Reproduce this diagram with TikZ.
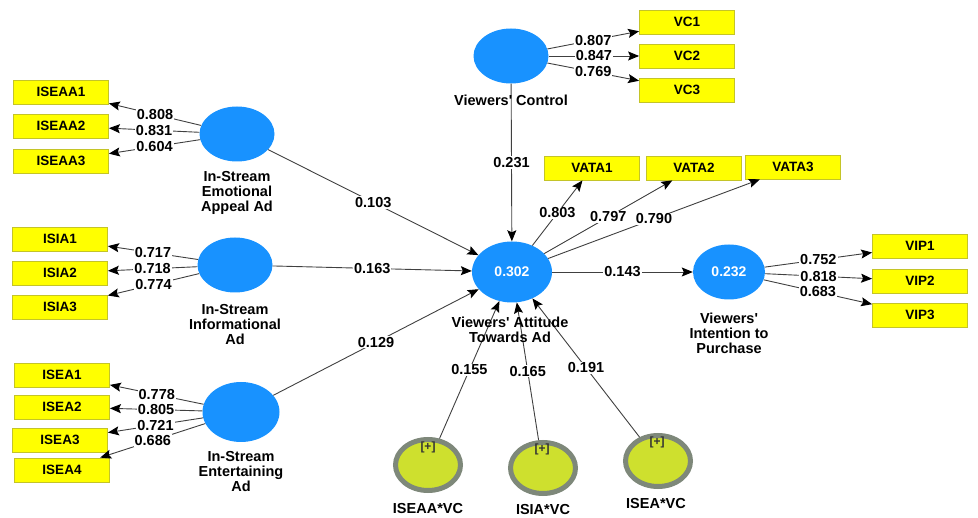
\documentclass[tikz,border=0pt]{standalone}
\usepackage{fontspec}
\setmainfont{Liberation Sans}
\usepackage{tikz}
\usetikzlibrary{arrows.meta}
\usetikzlibrary{shapes.geometric}

\definecolor{lvblue}{RGB}{24,146,255}
\definecolor{indyellow}{RGB}{255,255,0}
\definecolor{indborder}{RGB}{196,196,40}
\definecolor{modgreen}{RGB}{206,224,46}
\definecolor{modgray}{RGB}{126,136,122}
\definecolor{pathgray}{RGB}{64,64,64}

\tikzset{
	latent/.style = {ellipse, fill=lvblue, minimum width=75, minimum height=55, inner sep=0,
		text=white, font=\bfseries\fontsize{14}{16}\selectfont},
	moderator/.style = {ellipse, draw=modgray, line width=5, fill=modgreen,
		minimum width=65, minimum height=51, inner sep=0},
	indicator/.style = {rectangle, draw=indborder, line width=0.8, fill=indyellow,
		minimum width=95, minimum height=24, inner sep=0, font=\bfseries\fontsize{13.5}{15}\selectfont},
	lvname/.style = {align=center, inner sep=0, font=\bfseries\fontsize{14.5}{15}\selectfont},
	coef/.style = {fill=white, inner sep=1, font=\bfseries\fontsize{14.5}{15}\selectfont},
	plus/.style = {inner sep=0, text=black!80, font=\bfseries\fontsize{12}{13}\selectfont},
	pathline/.style = {draw=pathgray, line width=0.9, -{Stealth[length=11, width=9, inset=2, black]}}
}

\begin{document}
\begin{tikzpicture}[x=1pt, y=-1pt]
	\useasboundingbox (0,0) rectangle (978,518);

	% latent variables
	\node [latent] (vc) at (511, 56) {};
	\node [latent] (iseaa) at (237, 134) {};
	\node [latent] (isia) at (235, 265) {};
	\node [latent, minimum width=77, minimum height=60] (isea) at (241, 412) {};
	\node [latent, minimum width=80, minimum height=61] (vata) at (512, 272) {0.302};
	\node [latent, minimum width=72] (vip) at (729, 272) {0.232};

	% interaction terms
	\node [moderator] (iseaavc) at (428, 465) {};
	\node [moderator] (isiavc) at (543, 468) {};
	\node [moderator] (iseavc) at (658, 461) {};

	% indicators
	\foreach \name/\x/\y/\txt in {iseaa1/61/92/ISEAA1, iseaa2/61/126/ISEAA2, iseaa3/61/161/ISEAA3,
		isia1/60/239/ISIA1, isia2/60/273/ISIA2, isia3/60/307/ISIA3,
		isea1/62/375/ISEA1, isea2/62/407/ISEA2, isea3/60/440/ISEA3, isea4/62/470/ISEA4,
		vc1/687/22/VC1, vc2/687/56/VC2, vc3/687/90/VC3,
		vata1/592/168/VATA1, vata2/694/168/VATA2, vata3/793/167/VATA3,
		vip1/920/246/VIP1, vip2/920/281/VIP2, vip3/920/315/VIP3}
		\node [indicator] (\name) at (\x, \y) {\txt};

	% outer loadings
	\foreach \lv/\ind/\val in {iseaa/iseaa1/0.808, iseaa/iseaa2/0.831, iseaa/iseaa3/0.604,
		isia/isia1/0.717, isia/isia2/0.718, isia/isia3/0.774,
		isea/isea1/0.778, isea/isea2/0.805, isea/isea3/0.721, isea/isea4/0.686,
		vc/vc1/0.807, vc/vc2/0.847, vc/vc3/0.769,
		vata/vata1/0.803, vata/vata2/0.797, vata/vata3/0.790,
		vip/vip1/0.752, vip/vip2/0.818, vip/vip3/0.683}
		\draw [pathline] (\lv) -- (\ind) node [midway, coef] {\val};

	% structural paths
	\draw [pathline] (vc) -- (vata) node [midway, coef] {0.231};
	\draw [pathline] (iseaa) -- (vata) node [midway, coef] {0.103};
	\draw [pathline] (isia) -- (vata) node [midway, coef] {0.163};
	\draw [pathline] (isea) -- (vata) node [midway, coef] {0.129};
	\draw [pathline] (vata) -- (vip) node [midway, coef] {0.143};
	\draw [pathline] (iseaavc) -- (vata) node [midway, coef] {0.155};
	\draw [pathline] (isiavc) -- (vata) node [midway, coef] {0.165};
	\draw [pathline] (iseavc) -- (vata) node [midway, coef] {0.191};

	% names
	\node [lvname] (vc-name) at (511, 100) {Viewers\textquotesingle{} Control};
	\node [lvname] (iseaa-name) at (237, 193) {In-Stream\\Emotional\\Appeal Ad};
	\node [lvname] (isia-name) at (235, 325) {In-Stream\\Informational\\Ad};
	\node [lvname] (isea-name) at (241, 472) {In-Stream\\Entertaining\\Ad};
	\node [lvname] (vata-name) at (510, 330) {Viewers\textquotesingle{} Attitude\\Towards Ad};
	\node [lvname] (vip-name) at (729, 333) {Viewers\textquotesingle\\Intention to\\Purchase};
	\node [lvname] (iseaavc-name) at (428, 509) {ISEAA*VC};
	\node [lvname] (isiavc-name) at (543, 510) {ISIA*VC};
	\node [lvname] (iseavc-name) at (656, 504) {ISEA*VC};
	\node [plus] (iseaavc-plus) at (428, 447) {[+]};
	\node [plus] (isiavc-plus) at (542, 449) {[+]};
	\node [plus] (iseavc-plus) at (657, 442) {[+]};

\end{tikzpicture}
\end{document}
